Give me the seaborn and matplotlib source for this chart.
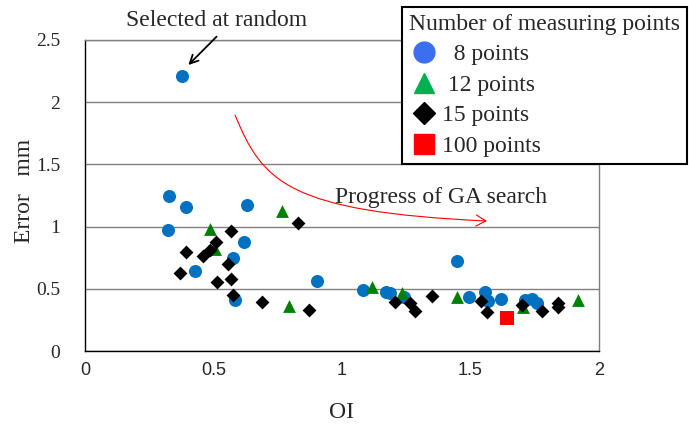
import pandas as pd
import seaborn as sns
import matplotlib.pyplot as plt
from matplotlib.lines import Line2D
from matplotlib.patches import FancyArrowPatch
from matplotlib.path import Path

# Values (OI vs error in mm)
oi_8 = [0.376, 0.328, 0.392, 0.629, 0.322, 0.620, 0.575, 0.427, 0.582, 0.902,
        1.083, 1.170, 1.187, 1.241, 1.449, 1.495, 1.556, 1.569, 1.619, 1.712,
        1.738, 1.757]
err_8 = [2.211, 1.246, 1.160, 1.171, 0.973, 0.876, 0.750, 0.641, 0.410, 0.560,
         0.490, 0.477, 0.464, 0.437, 0.726, 0.432, 0.477, 0.404, 0.416, 0.410,
         0.415, 0.388]

oi_12 = [0.765, 0.486, 0.506, 0.794, 1.116, 1.232, 1.446, 1.706, 1.919]
err_12 = [1.122, 0.978, 0.817, 0.362, 0.517, 0.464, 0.437, 0.356, 0.410]

oi_15 = [0.830, 0.567, 0.510, 0.393, 0.460, 0.486, 0.555, 0.370, 0.512, 0.567,
         0.575, 0.690, 0.872, 1.206, 1.265, 1.284, 1.349, 1.563, 1.540, 1.699,
         1.778, 1.842, 1.842]
err_15 = [1.030, 0.967, 0.876, 0.796, 0.764, 0.812, 0.700, 0.625, 0.557, 0.576,
          0.450, 0.396, 0.330, 0.396, 0.383, 0.324, 0.442, 0.316, 0.400, 0.370,
          0.324, 0.388, 0.356]

oi_100 = [1.641]
err_100 = [0.263]

groups = ["  8 points", " 12 points", "15 points", "100 points"]

df = pd.concat([
    pd.DataFrame({"OI": oi_8, "Error": err_8, "group": groups[0]}),
    pd.DataFrame({"OI": oi_12, "Error": err_12, "group": groups[1]}),
    pd.DataFrame({"OI": oi_15, "Error": err_15, "group": groups[2]}),
    pd.DataFrame({"OI": oi_100, "Error": err_100, "group": groups[3]}),
])

sns.set_style("white")
plt.rcParams["font.family"] = ["Liberation Serif", "DejaVu Serif"]

fig = plt.figure(figsize=(6.89, 4.24), dpi=100)
ax = fig.add_axes([85 / 689, 1 - 351 / 424, 514 / 689, 311 / 424])

# marker style per group: (marker, colour, size)
styles = {
    groups[0]: ("o", "#0070C0", 88),
    groups[1]: ("^", "#008000", 85),
    groups[2]: ("D", "#000000", 50),
    groups[3]: ("s", "#FF0000", 112),
}
for g in groups:
    m, c, s = styles[g]
    sns.scatterplot(data=df[df["group"] == g], x="OI", y="Error", marker=m,
                    color=c, s=s, linewidth=0, ax=ax, zorder=3, legend=False)

ax.set_xlim(0, 2)
ax.set_ylim(0, 2.5)
ax.set_xticks([0, 0.5, 1, 1.5, 2])
ax.set_xticklabels(["0", "0.5", "1", "1.5", "2"], family="Liberation Sans", fontsize=13)
ax.set_yticks([0, 0.5, 1, 1.5, 2, 2.5])
ax.set_yticklabels(["0", "0.5", "1", "1.5", "2", "2.5"], fontsize=14)
ax.tick_params(axis="x", direction="in", length=5, width=0.8, color="#404040", pad=8)
ax.tick_params(axis="y", direction="in", length=0, pad=18)

ax.yaxis.grid(True, color="#808080", linewidth=1)
ax.set_axisbelow(True)
for side in ["left", "bottom"]:
    ax.spines[side].set_color("#000000")
    ax.spines[side].set_linewidth(1)
for side in ["right", "top"]:
    ax.spines[side].set_color("#808080")
    ax.spines[side].set_linewidth(1)

ax.set_xlabel("OI", fontsize=17)
ax.set_ylabel("Error   mm", fontsize=17)
ax.xaxis.set_label_coords(0.5, -0.165)
ax.yaxis.set_label_coords(-0.097, 0.514)

# annotation for the random start point
ax.text(0.512, 2.653, "Selected at random", fontsize=17, ha="center", va="center")
ax.annotate("", xy=(0.402, 2.299), xytext=(0.512, 2.527), annotation_clip=False,
            arrowprops=dict(arrowstyle="->,head_length=0.6,head_width=0.3",
                            color="black", lw=1.3, shrinkA=0, shrinkB=0))

# curved red arrow showing GA search progress
curve = Path([(0.584, 1.897), (0.690, 1.360), (0.790, 1.120), (1.564, 1.045)],
             [Path.MOVETO, Path.CURVE4, Path.CURVE4, Path.CURVE4])
ax.add_patch(FancyArrowPatch(path=curve, arrowstyle="->,head_length=7,head_width=4",
                             color="red", lw=0.8, zorder=2))
ax.text(0.973, 1.23, "Progress of GA search", fontsize=17, ha="left", va="center")

# legend
handles = [
    Line2D([], [], marker="o", color="#3C6EF0", linestyle="", markersize=15),
    Line2D([], [], marker="^", color="#00B050", linestyle="", markersize=15),
    Line2D([], [], marker="D", color="#000000", linestyle="", markersize=11),
    Line2D([], [], marker="s", color="#FF0000", linestyle="", markersize=15),
]
leg = fig.legend(handles, groups, title="Number of measuring points",
                 loc="upper left", bbox_to_anchor=(402 / 689, 1 - 6.7 / 424),
                 borderaxespad=0, fontsize=17, title_fontsize=17,
                 alignment="left", fancybox=False, framealpha=1,
                 edgecolor="black", borderpad=0.3, handlelength=1.3,
                 handletextpad=0.1, labelspacing=0.38)
leg.get_frame().set_linewidth(1.5)

plt.savefig("out.png", dpi=100)
